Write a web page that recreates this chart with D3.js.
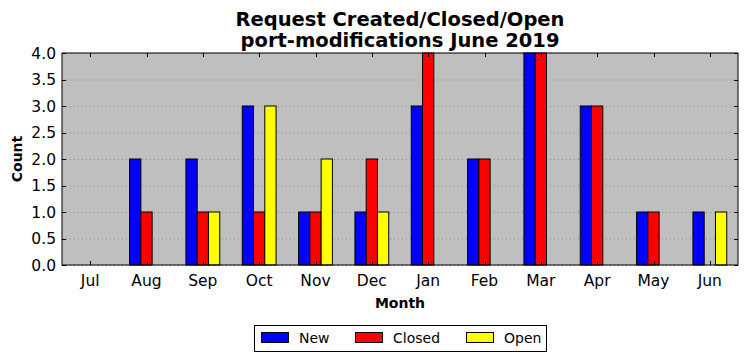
<!DOCTYPE html>
<html><head><meta charset="utf-8">
<script src="https://cdn.jsdelivr.net/npm/d3@7"></script>
<style>body{margin:0;background:#fff}text{font-family:"DejaVu Sans",sans-serif}</style>
</head><body>
<svg id="c" width="747" height="361"></svg>
<script>
const months = ["Jul","Aug","Sep","Oct","Nov","Dec","Jan","Feb","Mar","Apr","May","Jun"];
const newVals = [0,2,2,3,1,1,3,2,4,3,1,1];
const closedVals = [0,1,1,1,1,2,4,2,4,3,1,0];
const openVals = [0,0,1,3,2,1,0,0,0,0,0,1];
const yTicks = [0,0.5,1,1.5,2,2.5,3,3.5,4];
const seriesNames = ["New","Closed","Open"];
const seriesColors = ["#0000ff","#ff0000","#ffff00"];
const series = [newVals, closedVals, openVals];

const svg = d3.select("#c");
const L=62,R=738,T=53,B=265;
const x = d3.scaleLinear().domain([-0.5,11.5]).range([L,R]);
const y = d3.scaleLinear().domain([0,4]).range([B,T]);

svg.append("rect").attr("x",L).attr("y",T).attr("width",R-L).attr("height",B-T).attr("fill","#bfbfbf");
// grid
svg.append("g").selectAll("line").data(yTicks).join("line")
  .attr("x1",L).attr("x2",R).attr("y1",d=>y(d)+0.5).attr("y2",d=>y(d)+0.5)
  .attr("stroke","#8a8a8a").attr("stroke-width",1).attr("stroke-dasharray","1,3");

const bw = 0.2;
series.forEach((vals,si)=>{
  svg.append("g").selectAll("rect").data(vals).join("rect")
    .attr("x",(d,i)=>x(i-0.3+si*bw))
    .attr("width",x(bw)-x(0))
    .attr("y",d=>y(d))
    .attr("height",d=>y(0)-y(d))
    .attr("fill",seriesColors[si]).attr("stroke","#000").attr("stroke-width",1);
});

// ticks inside
const tk = svg.append("g").attr("stroke","#000").attr("stroke-width",1);
months.forEach((m,i)=>{
  const xx = Math.round(x(i))+0.5;
  tk.append("line").attr("x1",xx).attr("x2",xx).attr("y1",B).attr("y2",B-4);
  tk.append("line").attr("x1",xx).attr("x2",xx).attr("y1",T).attr("y2",T+4);
});
yTicks.forEach(v=>{
  const yy = Math.round(y(v))+0.5;
  tk.append("line").attr("x1",L).attr("x2",L+4).attr("y1",yy).attr("y2",yy);
  tk.append("line").attr("x1",R).attr("x2",R-4).attr("y1",yy).attr("y2",yy);
});
svg.append("rect").attr("x",L).attr("y",T).attr("width",R-L).attr("height",B-T)
  .attr("fill","none").attr("stroke","#000").attr("stroke-width",1);

// tick labels
svg.append("g").selectAll("text").data(months).join("text")
  .attr("x",(d,i)=>x(i)).attr("y",286).attr("text-anchor","middle")
  .attr("font-size",15.5).text(d=>d);
svg.append("g").selectAll("text").data(yTicks).join("text")
  .attr("x",56).attr("y",d=>y(d)+5.5).attr("text-anchor","end")
  .attr("font-size",15.5).text(d=>d.toFixed(1));

// axis labels
svg.append("text").attr("x",(L+R)/2).attr("y",308).attr("text-anchor","middle")
  .attr("font-size",14).attr("font-weight","bold").text("Month");
svg.append("text").attr("transform",`translate(22,${(T+B)/2}) rotate(-90)`)
  .attr("text-anchor","middle").attr("font-size",14).attr("font-weight","bold").text("Count");

// title
svg.append("text").attr("x",(L+R)/2).attr("y",26).attr("text-anchor","middle")
  .attr("font-size",19.5).attr("font-weight","bold").text("Request Created/Closed/Open");
svg.append("text").attr("x",(L+R)/2).attr("y",47).attr("text-anchor","middle")
  .attr("font-size",19.5).attr("font-weight","bold").text("port-modifications June 2019");

// legend
const lg = svg.append("g");
lg.append("rect").attr("x",254.5).attr("y",325.5).attr("width",292).attr("height",26)
  .attr("fill","#fff").attr("stroke","#000").attr("stroke-width",1);
const legX = [261,355,466];
seriesNames.forEach((n,i)=>{
  lg.append("rect").attr("x",legX[i]+0.5).attr("y",332.5).attr("width",27).attr("height",10)
    .attr("fill",seriesColors[i]).attr("stroke","#000");
  lg.append("text").attr("x",legX[i]+38).attr("y",343).attr("font-size",14).text(n);
});
</script>
</body></html>
